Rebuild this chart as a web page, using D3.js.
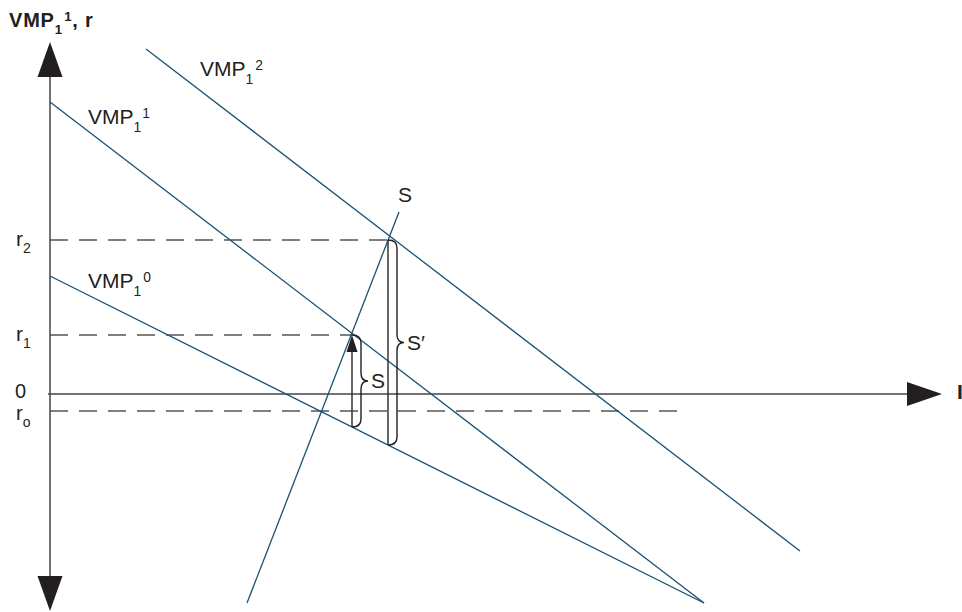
<!DOCTYPE html>
<html lang="en">
<head>
    <meta charset="UTF-8">
    <title>VMP and r</title>
    <script src="https://cdn.jsdelivr.net/npm/d3@7"></script>
    <style>
        body { margin: 0; background: #fff; }
        text { font-family: "Liberation Sans", Arial, sans-serif; fill: #231f20; }
    </style>
</head>
<body>
<script>
    // lines: VMP curves and supply curve S (in chart units)
    var lineNames = ["VMP0", "VMP1", "VMP2", "S"];
    var lineStart = [[0, 11.8], [0, 29.2], [9.6, 34.5], [19.7, -20.9]];
    var lineEnd = [[65.4, -20.9], [65.4, -20.9], [75.0, -15.7], [34.9, 18.2]];

    // interest rate levels
    var rNames = ["r0", "r1", "r2"];
    var rValues = [-1.7, 5.9, 15.4];
    var rDashEnd = [62.7, 30.2, 33.8];

    // vertical shifts (S and S')
    var shiftNames = ["S", "S\u2032"];
    var shiftX = [30.2, 33.8];
    var shiftTop = [5.9, 15.4];
    var shiftBottom = [-3.3, -5.1];

    // axes extent
    var yAxisTop = 35.2, yAxisBottom = -21.7;
    var xAxisStart = -0.2, xAxisEnd = 89.2;

    var width = 962, height = 612;
    var ink = "#231f20", blue = "#1a5273";

    var svg = d3.select("body").append("svg")
        .attr("width", width)
        .attr("height", height);

    var xScale = d3.scaleLinear().domain([0, 90]).range([50, 950]);
    var yScale = d3.scaleLinear().domain([0, 10]).range([394, 294]);

    var line = d3.line()
        .x(function (d) { return xScale(d[0]); })
        .y(function (d) { return yScale(d[1]); });

    // dashed r lines
    svg.append("g").selectAll("path")
        .data(rValues)
        .join("path")
        .attr("d", function (d, i) { return line([[0, d], [rDashEnd[i], d]]); })
        .attr("stroke", "#555")
        .attr("stroke-width", 1.3)
        .attr("stroke-dasharray", "18,11")
        .attr("fill", "none");

    // y axis
    var ax = xScale(0);
    svg.append("line")
        .attr("x1", ax).attr("x2", ax)
        .attr("y1", yScale(yAxisTop) + 30).attr("y2", yScale(yAxisBottom) - 30)
        .attr("stroke", "#444").attr("stroke-width", 1.5);
    var yt = yScale(yAxisTop), yb = yScale(yAxisBottom);
    svg.append("path")
        .attr("d", "M" + ax + "," + yt + "L" + (ax - 12.5) + "," + (yt + 35) + "L" + (ax + 12.5) + "," + (yt + 35) + "Z")
        .attr("fill", ink);
    svg.append("path")
        .attr("d", "M" + ax + "," + yb + "L" + (ax - 12.5) + "," + (yb - 35) + "L" + (ax + 12.5) + "," + (yb - 35) + "Z")
        .attr("fill", ink);

    // x axis
    var ay = yScale(0), xe = xScale(xAxisEnd);
    svg.append("line")
        .attr("x1", xScale(xAxisStart)).attr("x2", xe - 34)
        .attr("y1", ay).attr("y2", ay)
        .attr("stroke", "#444").attr("stroke-width", 1.5);
    svg.append("path")
        .attr("d", "M" + xe + "," + ay + "L" + (xe - 35) + "," + (ay - 12) + "L" + (xe - 35) + "," + (ay + 12) + "Z")
        .attr("fill", ink);

    // VMP lines and S
    svg.append("g").selectAll("path")
        .data(lineNames)
        .join("path")
        .attr("d", function (d, i) { return line([lineStart[i], lineEnd[i]]); })
        .attr("stroke", blue)
        .attr("stroke-width", 1.3)
        .attr("fill", "none");

    // vertical shift bars
    svg.append("g").selectAll("line")
        .data(shiftX)
        .join("line")
        .attr("x1", function (d) { return xScale(d); })
        .attr("x2", function (d) { return xScale(d); })
        .attr("y1", function (d, i) { return yScale(shiftBottom[i]); })
        .attr("y2", function (d, i) { return yScale(shiftTop[i]) + (i === 0 ? 12 : 0); })
        .attr("stroke", "#333")
        .attr("stroke-width", 1.5);

    // arrowhead on the first bar
    var bx = xScale(shiftX[0]), by = yScale(shiftTop[0]);
    svg.append("path")
        .attr("d", "M" + bx + "," + by + "L" + (bx - 5.5) + "," + (by + 17) + "L" + (bx + 5.5) + "," + (by + 17) + "Z")
        .attr("fill", ink);

    // braces
    function brace(x, y0, y1, w, t) {
        var ym = (y0 + y1) / 2, r = 8;
        return "M" + x + "," + y0 +
            "Q" + (x + w) + "," + y0 + " " + (x + w) + "," + (y0 + r) +
            "L" + (x + w) + "," + (ym - r) +
            "Q" + (x + w) + "," + ym + " " + (x + w + t) + "," + ym +
            "Q" + (x + w) + "," + ym + " " + (x + w) + "," + (ym + r) +
            "L" + (x + w) + "," + (y1 - r) +
            "Q" + (x + w) + "," + y1 + " " + x + "," + y1;
    }
    svg.append("g").selectAll("path")
        .data(shiftX)
        .join("path")
        .attr("d", function (d, i) {
            return brace(xScale(d), yScale(shiftTop[i]), yScale(shiftBottom[i]), 9, 7);
        })
        .attr("stroke", ink)
        .attr("stroke-width", 1.4)
        .attr("fill", "none");

    // label helper: main text with optional subscript and superscript
    function label(x, y, main, sub, sup, size, bold) {
        var t = svg.append("text")
            .attr("x", x).attr("y", y)
            .attr("font-size", size + "px")
            .attr("font-weight", bold ? "bold" : "normal");
        t.append("tspan").text(main);
        var dy = 0;
        if (sub) {
            t.append("tspan").attr("font-size", (size * 0.66) + "px").attr("dy", size * 0.36).text(sub);
            dy = size * 0.36;
        }
        if (sup) {
            t.append("tspan").attr("font-size", (size * 0.66) + "px").attr("dx", 2).attr("dy", -dy - size * 0.3).text(sup);
            dy = -size * 0.3;
        }
        return { t: t, dy: dy };
    }

    // axis titles
    var title = label(9, 27, "VMP", "1", "1", 20, true);
    title.t.attr("letter-spacing", "0.8px");
    title.t.append("tspan").attr("dy", -title.dy).text(", r");
    label(957, 399, "I", null, null, 21, true);

    // curve labels
    label(xScale(15), yScale(31.8), "VMP", "1", "2", 21);
    label(xScale(3.8), yScale(27.0), "VMP", "1", "1", 21);
    label(xScale(3.8), yScale(10.6), "VMP", "1", "0", 21);
    label(xScale(34.8), yScale(19.2), "S", null, null, 21);

    // shift labels
    svg.append("g").selectAll("text")
        .data(shiftNames)
        .join("text")
        .attr("x", function (d, i) { return xScale(shiftX[i]) + 19; })
        .attr("y", function (d, i) { return (yScale(shiftTop[i]) + yScale(shiftBottom[i])) / 2 + 7; })
        .attr("font-size", "21px")
        .text(function (d) { return d; });

    // r labels and origin
    svg.append("g").selectAll("text")
        .data(rValues)
        .join("text")
        .attr("x", 16)
        .attr("y", function (d, i) { return yScale(d) + (i === 0 ? 9 : 6); })
        .attr("font-size", function (d, i) { return i === 0 ? "20px" : "21px"; })
        .each(function (d, i) {
            d3.select(this).append("tspan").text("r");
            d3.select(this).append("tspan")
                .attr("font-size", "14px")
                .attr("dy", 7)
                .text(rNames[i].slice(1) === "0" ? "o" : rNames[i].slice(1));
        });
    svg.append("text")
        .attr("x", 15)
        .attr("y", yScale(0) + 4)
        .attr("font-size", "20px")
        .text("0");
</script>
</body>
</html>
